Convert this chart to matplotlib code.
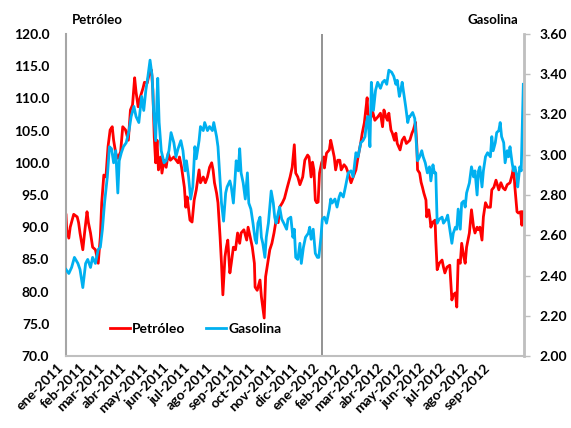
import matplotlib
matplotlib.use("Agg")
import matplotlib.pyplot as plt
import pandas as pd

# dias desde 2011-01-01 y precios
petroleo_dia = [
    0, 1, 4, 6, 11, 16, 18, 20, 24, 27, 30, 32, 35, 38, 42, 46, 49, 51, 54, 57,
    60, 63, 66, 68, 71, 74, 78, 81, 85, 89, 92, 95, 98, 100, 103, 106, 110, 112, 116, 119,
    122, 124, 126, 128, 130, 132, 135, 137, 140, 143, 146, 149, 154,
    160, 162, 165, 169, 171, 173, 177, 180, 183, 186, 190, 192, 196, 199, 202, 205, 208, 210, 212, 215,
    217, 220, 222, 224, 227, 229, 231, 234, 236, 239, 242, 245, 248, 250, 254, 258, 260, 263, 266, 269,
    270, 273, 277, 279, 281, 283, 285, 288, 291, 294, 297, 300, 303, 305, 309, 312, 316, 320, 323,
    326, 328, 331, 334, 338, 341, 345, 347, 350, 352, 354, 356, 358, 360, 362, 365, 368, 369, 372, 376,
    378, 380, 383, 385, 388, 391, 393, 397, 400, 403, 407, 410, 414, 417, 421, 423, 426, 428, 430, 431,
    434, 438, 441, 445, 449, 452, 454, 457, 459, 461, 464, 466, 469, 471, 473, 477, 480, 483, 486,
    491, 494, 496, 499, 501, 502, 505, 507, 509, 511, 514, 515, 518, 520, 521, 524, 527, 528, 530, 533,
    537, 539, 541, 544, 548, 549, 551, 553, 556, 558, 560, 563, 565, 568, 570, 572, 576, 579, 582, 584,
    587, 589, 591, 594, 596, 599, 602, 606, 608, 611, 614, 618, 621, 624, 627, 630, 634, 637, 639, 641,
    644, 646, 649, 651, 652,
]
petroleo = [
    91.9, 89.6, 88.3, 90.0, 92.0, 91.6, 90.7, 89.1, 86.5, 89.6, 92.4, 90.7, 89.1, 86.9, 86.5, 84.4, 88.5, 93.8, 98.1, 97.8,
    102.5, 105.1, 105.6, 103.5, 101.5, 100.7, 101.7, 105.6, 105.1, 103.5, 108.2, 109.0, 113.2, 111.0, 108.7, 110.2, 111.6, 112.5, 112.4, 113.9,
    114.4, 111.3, 104.0, 100.0, 103.5, 98.9, 100.9, 98.4, 100.4, 99.3, 101.5, 100.4, 100.9,
    100.0, 100.9, 99.3, 96.2, 93.1, 94.7, 91.1, 90.8, 94.2, 95.8, 98.9, 96.9, 97.8, 96.9, 97.8, 99.3, 100.0, 98.9, 96.9, 95.3,
    93.8, 88.5, 84.4, 79.5, 85.4, 86.9, 88.0, 82.9, 84.4, 86.9, 86.5, 89.1, 87.5, 89.1, 89.6, 88.0, 90.0, 88.5, 86.9, 84.4,
    80.7, 80.2, 81.8, 79.2, 77.6, 75.9, 82.3, 84.4, 86.5, 87.5, 89.1, 91.1, 90.7, 93.1, 93.8, 94.5, 96.2, 97.8, 99.3,
    102.8, 98.4, 97.8, 96.6, 97.8, 100.4, 101.2, 100.9, 97.8, 100.1, 98.9, 94.2, 93.8, 93.9, 98.4, 100.0, 100.9, 99.2, 101.5, 102.0,
    103.5, 102.5, 100.9, 98.9, 100.4, 100.4, 98.9, 99.7, 99.3, 98.4, 96.9, 97.8, 98.9, 100.9, 103.2, 104.6, 106.2, 108.2, 110.1, 107.7,
    106.6, 107.9, 106.6, 107.1, 107.7, 105.6, 108.2, 107.1, 106.6, 107.7, 105.1, 104.6, 103.5, 104.6, 103.0, 102.0, 103.5, 104.0, 103.0,
    103.5, 104.6, 105.1, 106.3, 102.5, 98.9, 98.4, 97.0, 96.2, 95.3, 94.2, 91.6, 92.7, 91.1, 90.0, 90.8, 91.1, 88.0, 83.4, 84.4,
    84.9, 83.8, 82.9, 83.8, 84.1, 82.3, 78.7, 79.5, 79.8, 77.6, 84.9, 84.4, 87.5, 85.4, 84.4, 86.9, 89.1, 92.7, 90.0, 89.1,
    90.0, 89.6, 90.0, 88.0, 91.6, 93.8, 93.1, 93.1, 95.8, 96.2, 97.3, 95.8, 96.9, 96.1, 95.8, 96.6, 96.9, 98.1, 99.3, 96.2,
    92.4, 92.2, 92.4, 90.3, 92.4,
]

gasolina_dia = [
    0, 4, 8, 12, 17, 20, 24, 28, 31, 35, 38, 42, 46, 49, 52, 55, 59, 62, 65, 68,
    71, 74, 76, 79, 82, 86, 90, 93, 97, 100, 104, 108, 111, 114, 117, 120, 123, 125, 128, 130,
    131, 133, 136, 140, 143, 147, 150, 154, 157,
    160, 164, 167, 170, 172, 175, 178, 181, 184, 186, 190, 192, 196, 198, 202, 205, 209, 211, 215, 217,
    220, 222, 225, 228, 230, 234, 236, 239, 241, 243, 246, 248, 250, 253, 256, 259, 261, 264, 267, 270,
    272, 274, 277, 279, 281, 284, 286, 289, 291, 293, 296, 298, 300, 303, 305, 308, 311, 315, 317, 321, 324,
    326, 328, 331, 334, 336, 339, 342, 346, 348, 350, 353, 356, 359, 361, 364, 366, 369, 372, 376, 378,
    380, 384, 387, 390, 392, 396, 399, 403, 407, 410, 414, 417, 421, 424, 427, 429, 431, 434, 436, 439,
    442, 445, 449, 452, 455, 458, 461, 465, 468, 471, 473, 476, 478, 480, 483, 485, 488, 490,
    491, 495, 498, 500, 502, 505, 508, 510, 513, 516, 519, 521, 524, 526, 528, 530, 533, 537, 539, 543,
    545, 548, 551, 553, 556, 558, 560, 563, 565, 568, 570, 572, 576, 579, 582, 584, 587, 589, 591, 594,
    596, 599, 602, 606, 608, 610, 613, 615, 618, 620, 622, 625, 627, 630, 632, 634, 637, 639, 641, 644,
    645, 648, 650, 651, 653,
]
gasolina = [
    2.43, 2.41, 2.44, 2.49, 2.46, 2.43, 2.34, 2.46, 2.48, 2.44, 2.49, 2.46, 2.53, 2.54, 2.63, 2.76, 2.89, 3.04, 3.03, 2.96,
    3.02, 2.81, 2.97, 3.01, 3.04, 3.06, 3.12, 3.19, 3.24, 3.19, 3.16, 3.29, 3.22, 3.32, 3.39, 3.47, 3.39, 3.22, 3.07, 3.29,
    3.38, 3.16, 3.02, 2.96, 2.97, 3.02, 3.11, 3.06, 2.99,
    3.03, 3.07, 3.02, 2.92, 2.97, 2.89, 2.78, 2.84, 3.04, 2.98, 3.07, 3.14, 3.12, 3.16, 3.12, 3.14, 3.12, 3.16, 3.09, 3.04,
    2.87, 2.76, 2.67, 2.81, 2.84, 2.87, 2.84, 2.76, 2.86, 2.97, 2.92, 3.03, 2.91, 2.86, 2.78, 2.91, 2.76, 2.73, 2.66, 2.58,
    2.56, 2.66, 2.69, 2.59, 2.56, 2.49, 2.59, 2.66, 2.74, 2.82, 2.76, 2.69, 2.66, 2.71, 2.74, 2.68, 2.66, 2.63, 2.68, 2.69, 2.59,
    2.63, 2.49, 2.48, 2.56, 2.46, 2.54, 2.59, 2.61, 2.64, 2.58, 2.63, 2.51, 2.49, 2.49, 2.59, 2.68, 2.69, 2.66, 2.73, 2.78,
    2.76, 2.78, 2.74, 2.79, 2.81, 2.79, 2.84, 2.91, 2.92, 2.89, 3.01, 2.99, 3.06, 3.07, 3.09, 3.16, 3.19, 3.04, 3.36, 3.22,
    3.32, 3.36, 3.33, 3.36, 3.37, 3.35, 3.42, 3.41, 3.39, 3.35, 3.37, 3.29, 3.32, 3.36, 3.29, 3.24, 3.16, 3.19,
    3.19, 3.21, 3.18, 3.07, 2.97, 2.99, 3.02, 2.99, 2.96, 2.91, 2.94, 2.87, 2.95, 2.91, 2.91, 2.66, 2.68, 2.69, 2.66, 2.68,
    2.70, 2.63, 2.56, 2.61, 2.64, 2.63, 2.73, 2.63, 2.76, 2.77, 2.74, 2.81, 2.86, 2.94, 2.89, 2.92, 2.80, 2.92, 2.94, 2.84,
    2.92, 2.99, 3.01, 2.99, 3.09, 3.02, 3.06, 3.11, 3.12, 3.16, 3.09, 3.06, 2.96, 3.02, 2.99, 3.04, 2.96, 2.92, 2.94, 2.89,
    2.84, 2.94, 2.92, 3.07, 3.35,
]

etiquetas = [
    "ene-2011", "feb-2011", "mar-2011", "abr-2011", "may-2011", "jun-2011", "jul-2011",
    "ago-2011", "sep-2011", "oct-2011", "nov-2011", "dic-2011", "ene-2012", "feb-2012",
    "mar-2012", "abr-2012", "may-2012", "jun-2012", "jul-2012", "ago-2012", "sep-2012",
]

base = pd.Timestamp("2011-01-01")
meses = pd.date_range("2011-01-01", periods=len(etiquetas), freq="MS")
ticks = [(m - base).days for m in meses]
fin = (pd.Timestamp("2012-10-16") - base).days

plt.rcParams["font.family"] = ["Lato", "DejaVu Sans"]
plt.rcParams["font.weight"] = "bold"

fig = plt.figure(figsize=(5.71, 4.28), dpi=100)
ax = fig.add_axes([0.1156, 0.1682, 0.8021, 0.7524])
ax2 = ax.twinx()

l1, = ax.plot(petroleo_dia, petroleo, color="#FF0000", lw=2.0, label="Petróleo")
l2, = ax2.plot(gasolina_dia, gasolina, color="#00B0F0", lw=2.0, label="Gasolina")

ax.set_xlim(0, fin)
ax.set_ylim(70, 120)
ax2.set_ylim(2.0, 3.6)
ax.set_yticks([70 + 5 * i for i in range(11)])
ax.set_yticklabels([f"{70 + 5 * i:.1f}" for i in range(11)])
ax2.set_yticks([2.0 + 0.2 * i for i in range(9)])
ax2.set_yticklabels([f"{2.0 + 0.2 * i:.2f}" for i in range(9)])

ax.set_xticks(ticks)
ax.set_xticklabels(etiquetas, rotation=45, ha="right", fontsize=10)
ax.tick_params(axis="x", length=0, pad=4)
ax.tick_params(axis="y", length=0, pad=12, labelsize=10)
ax2.tick_params(axis="y", length=4, width=1, color="#BFBFBF", pad=7, labelsize=10)

# linea de separacion entre anios
ax.axvline((pd.Timestamp("2012-01-01") - base).days, color="#808080", lw=1.2)

for a in (ax, ax2):
    a.spines["top"].set_visible(False)
ax.spines["left"].set_color("#A6A6A6")
ax.spines["left"].set_linewidth(1.5)
ax.spines["bottom"].set_color("#BFBFBF")
ax.spines["bottom"].set_linewidth(1.5)
ax2.spines["right"].set_color("#BFBFBF")
ax2.spines["right"].set_linewidth(2)
ax2.spines["left"].set_visible(False)
ax2.spines["bottom"].set_visible(False)

fig.text(0.126, 0.953, "Petróleo", fontsize=9.5, fontweight="bold", ha="left", va="center")
fig.text(0.907, 0.953, "Gasolina", fontsize=9.5, fontweight="bold", ha="right", va="center")

ax.legend(
    [l1, l2], ["Petróleo", "Gasolina"],
    loc="center left", bbox_to_anchor=(0.068, 0.084), ncol=2, frameon=False,
    handlelength=1.45, handletextpad=0.15, columnspacing=1.5, fontsize=10,
)

fig.savefig("out.png", dpi=100)
